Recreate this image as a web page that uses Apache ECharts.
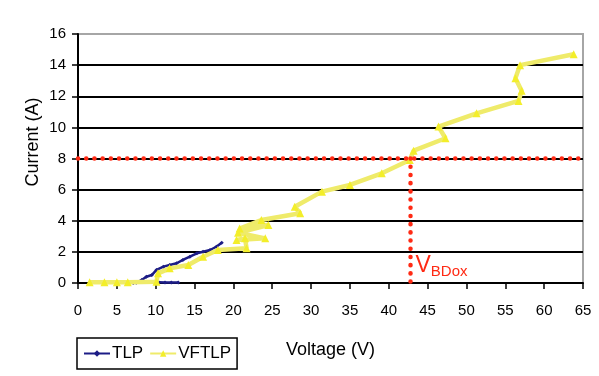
<!DOCTYPE html>
<html><head><meta charset="utf-8">
<script src="https://cdn.jsdelivr.net/npm/echarts@6/dist/echarts.min.js"></script>
<style>html,body{margin:0;padding:0;background:#fff}#c{width:599px;height:376px}</style>
</head><body><div id="c"></div>
<script>
// TLP data (V, A)
const tlpV = [7.1, 7.5, 8.2, 8.8, 9.5, 10.1, 11.0, 11.8, 12.7, 13.5, 14.4, 15.3, 16.1, 17.0, 17.8, 18.5];
const tlpI = [0.0, 0.02, 0.19, 0.4, 0.51, 0.84, 1.05, 1.16, 1.27, 1.48, 1.69, 1.91, 2.01, 2.12, 2.33, 2.58];
// TLP low-current segment
const tlpLowV = [10.4, 11.2, 12.0, 12.9];
const tlpLowI = [0.05, 0.03, 0.03, 0.04];
// VFTLP data (V, A)
const vfV = [1.5, 3.4, 5.0, 6.4, 10.1, 10.3, 11.8, 14.2, 16.1, 18.0, 21.7, 21.5, 20.4, 24.1, 20.6, 24.5, 20.8, 23.6, 28.6, 27.9, 31.4, 35.0, 39.1, 42.7, 43.2, 47.3, 46.4, 51.3, 56.7, 57.1, 56.3, 56.9, 63.8];
const vfI = [0.05, 0.05, 0.05, 0.05, 0.08, 0.62, 0.94, 1.16, 1.69, 2.12, 2.23, 2.87, 2.76, 2.87, 3.23, 3.73, 3.5, 4.05, 4.48, 4.9, 5.87, 6.3, 7.05, 7.9, 8.5, 9.3, 10.05, 10.9, 11.7, 12.35, 13.15, 14.0, 14.7];
// Reference lines
const refCurrent = 8;
const vbdox = 42.8;
const xTicks = {min: 0, max: 65, interval: 5};
const yTicks = {min: 0, max: 16, interval: 2};

const zip = (a, b) => a.map((v, i) => [v, b[i]]);
const tlpData = zip(tlpV, tlpI).concat([[null, null]], zip(tlpLowV, tlpLowI));

const chart = echarts.init(document.getElementById('c'));
const font = '"Liberation Sans", Arial, sans-serif';
const dotted = {color: '#ff2a14', width: 4.5, type: [0.1, 8.1], cap: 'round'};

chart.setOption({
  animation: false,
  grid: {left: 78, right: 16, top: 34, bottom: 93, show: true, borderColor: '#a6a6a6', borderWidth: 2},
  legend: {
    left: 77, top: 338,
    padding: [7, 6, 7, 6],
    borderColor: '#000', borderWidth: 1.5,
    itemWidth: 26, itemHeight: 8, itemGap: 6,
    textStyle: {fontFamily: font, fontSize: 17, color: '#000', padding: [0, 0, 0, -3]},
    data: ['TLP', 'VFTLP']
  },
  xAxis: {
    type: 'value', min: xTicks.min, max: xTicks.max, interval: xTicks.interval,
    name: 'Voltage (V)', nameLocation: 'middle', nameGap: 58,
    nameTextStyle: {fontFamily: font, fontSize: 18, color: '#000'},
    axisLine: {show: true, onZero: false, lineStyle: {color: '#000', width: 2}},
    axisTick: {show: true, length: 6, inside: false, lineStyle: {color: '#000', width: 1.5}},
    axisLabel: {fontFamily: font, fontSize: 15, color: '#000', margin: 20},
    splitLine: {show: false}
  },
  yAxis: {
    type: 'value', min: yTicks.min, max: yTicks.max, interval: yTicks.interval,
    axisLine: {show: true, lineStyle: {color: '#000', width: 2}},
    axisTick: {show: true, length: 6, lineStyle: {color: '#000', width: 1.5}},
    axisLabel: {fontFamily: font, fontSize: 15, color: '#000', margin: 12},
    splitLine: {show: true, showMaxLine: false, lineStyle: {color: '#000', width: 1.8}}
  },
  series: [
    {
      name: 'TLP', type: 'line', data: tlpData, connectNulls: false,
      symbol: 'diamond', symbolSize: 4, showSymbol: true,
      itemStyle: {color: '#1c1c86'},
      lineStyle: {color: '#1c1c86', width: 2.5}, z: 3
    },
    {
      name: 'VFTLP', type: 'line', data: zip(vfV, vfI),
      symbol: 'triangle', symbolSize: 8,
      itemStyle: {color: '#f3ee2a'},
      lineStyle: {color: '#efeb6a', width: 4.5}, z: 4
    },
    {
      name: 'ref8', type: 'line', data: [[xTicks.min, refCurrent], [xTicks.max, refCurrent]],
      symbol: 'none', lineStyle: dotted, clip: false, z: 6, silent: true
    },
    {
      name: 'vbd', type: 'line', data: [[vbdox, refCurrent], [vbdox, -0.2]],
      symbol: 'none', lineStyle: dotted, clip: false, z: 6, silent: true
    }
  ]
});

const p = chart.convertToPixel({gridIndex: 0}, [vbdox, 0]);
chart.setOption({
  graphic: [
    {
      type: 'text',
      x: 33, y: 142, rotation: Math.PI / 2,
      style: {text: 'Current (A)', fontFamily: font, fontSize: 18, fill: '#000', align: 'center', verticalAlign: 'middle'}
    },
    {
      type: 'text', x: p[0] + 5, y: p[1] - 6,
      style: {
        text: '{a|V}{b|BDox}', fill: '#ff2a14', verticalAlign: 'bottom',
        rich: {
          a: {fontFamily: font, fontSize: 23, fill: '#ff2a14', verticalAlign: 'bottom'},
          b: {fontFamily: font, fontSize: 15, fill: '#ff2a14', verticalAlign: 'bottom', padding: [0, 0, -2, 0]}
        }
      }
    }
  ]
});
</script></body></html>
